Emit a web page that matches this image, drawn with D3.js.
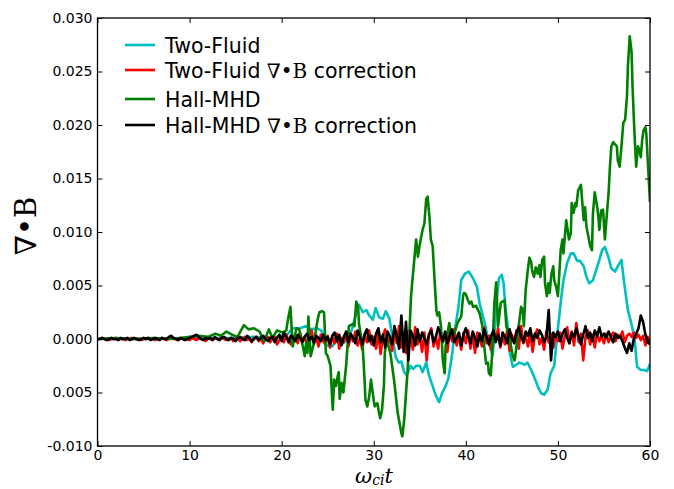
<!DOCTYPE html>
<html>
<head>
<meta charset="utf-8">
<script src="https://cdn.jsdelivr.net/npm/d3@7"></script>
<style>
  html, body { margin: 0; padding: 0; background: #fff; }
  svg { display: block; }
</style>
</head>
<body>
<svg id="chart" width="674" height="489"></svg>
<script>
// Divergence of B versus time for the four simulation runs.

// Hall-MHD, [t, divB]
const hallMHD = [
  [0,0],[2,0.0001],[4,0],[6,0.0001],[8,0],[9,0.0001],[10,0.0002],[11,0.0003],[12,0.0002],
  [12.8,0.0005],[13.4,0.0003],[14,0.0007],[14.6,0.0004],[15.2,0.0002],[15.9,0.0013],[16.4,0.0009],
  [17,0.001],[17.6,0.0007],[18.1,-0.0002],[18.6,0.0009],[19,0.0001],[19.5,0.0008],[20.1,0.0006],
  [20.5,0.0008],[20.7,0.0019],[20.95,0.003],[21.2,-0.0007],[21.6,0.001],[21.9,0.0009],[22.3,-0.0007],
  [22.5,-0.0016],[22.65,-0.0004],[22.8,-0.0013],[22.9,0.0021],[23.15,-0.0016],[23.5,-0.0004],
  [23.9,0.0018],[24.1,0.0025],[24.4,0.0026],[24.6,0.0025],[24.8,-0.0013],[25.0,-0.0016],[25.3,-0.0025],
  [25.55,-0.0066],[25.7,-0.0038],[25.9,-0.0044],[26.1,-0.0034],[26.2,-0.0031],[26.3,-0.0056],
  [26.5,-0.0041],[26.7,-0.005],[27.0,-0.0025],[27.3,0.0012],[27.7,0.0014],[27.9,0.0012],[28.1,0.0035],
  [28.3,0.003],[28.4,0.0014],[28.8,-0.0007],[29.0,-0.0038],[29.1,-0.0057],[29.3,-0.0063],[29.5,-0.0054],
  [29.7,-0.0038],[29.9,-0.0051],[30.1,-0.0063],[30.4,-0.006],[30.55,-0.0068],[30.7,-0.0074],
  [30.9,-0.0066],[31.1,-0.0044],[31.2,-0.0013],[31.4,0],[31.8,-0.0013],[32.2,-0.0038],[32.6,-0.0069],
  [33.0,-0.0088],[33.1,-0.0091],[33.3,-0.0076],[33.7,-0.0026],[34.05,0.004],[34.2,0.0055],[34.4,0.0074],
  [34.6,0.0093],[34.8,0.0077],[34.95,0.0086],[35.1,0.0093],[35.3,0.0102],[35.5,0.0108],[35.7,0.0131],
  [35.85,0.0133],[36.05,0.0114],[36.2,0.0093],[36.4,0.0087],[36.6,0.0056],[36.8,0.0027],[36.9,0.0022],
  [37.1,0.0025],[37.3,0.0012],[37.5,-0.002],[37.7,-0.0032],[37.8,-0.0007],[38.0,0.0005],[38.2,0.0015],
  [38.4,0.0005],[38.75,0.0005],[39.1,0.0015],[39.5,0.0021],[39.7,0.004],[39.8,0.0043],[40.0,0.0042],
  [40.2,0.0037],[40.4,0.0033],[40.6,0.0035],[40.8,0.003],[41.1,0.0031],[41.5,0.0024],[41.8,0.0012],
  [42.0,-0.0007],[42.2,-0.0023],[42.4,-0.0022],[42.5,-0.0032],[42.7,-0.0034],[42.9,-0.0009],
  [43.1,0.0034],[43.3,0.0053],[43.5,0.0012],[43.8,0.0034],[44.2,0.0036],[44.4,0.0012],[44.7,0.0003],
  [45.1,-0.0016],[45.3,-0.002],[45.5,-0.0007],[45.6,0.0003],[46.0,0.003],[46.2,0.0027],[46.3,0.0012],
  [46.5,0.0046],[46.7,0.0062],[46.9,0.0076],[47.1,0.0072],[47.2,0.0064],[47.4,0.0058],[47.6,0.0067],
  [47.8,0.0061],[48.0,0.0069],[48.1,0.0058],[48.3,0.0074],[48.5,0.0077],[48.6,0.0052],[48.8,0.004],
  [48.95,0.0052],[49.1,0.0043],[49.3,0.0061],[49.5,0.0068],[49.6,0.0055],[49.8,0.0049],[50.0,0.004],
  [50.15,0.0061],[50.3,0.0083],[50.5,0.0093],[50.6,0.008],[50.9,0.0111],[51.0,0.0105],[51.2,0.0093],
  [51.4,0.0099],[51.5,0.0127],[51.7,0.0118],[51.9,0.0127],[52.0,0.0124],[52.2,0.0139],[52.5,0.0144],
  [52.8,0.0111],[52.95,0.0123],[53.1,0.0105],[53.3,0.0096],[53.5,0.0087],[53.7,0.0083],[53.8,0.0117],
  [54.0,0.0137],[54.2,0.0127],[54.35,0.0118],[54.5,0.0102],[54.7,0.012],[54.9,0.0121],[55.1,0.0093],
  [55.3,0.0115],[55.5,0.0136],[55.65,0.0161],[55.8,0.018],[56.0,0.0184],[56.2,0.0182],[56.4,0.018],
  [56.5,0.0167],[56.7,0.0161],[56.9,0.018],[57.1,0.0202],[57.3,0.0205],[57.5,0.0227],[57.6,0.0255],
  [57.8,0.0283],[58.0,0.0268],[58.1,0.0237],[58.25,0.0205],[58.35,0.0186],[58.5,0.0161],[58.7,0.018],
  [58.9,0.0175],[59.0,0.017],[59.15,0.0186],[59.3,0.0195],[59.5,0.0198],[59.6,0.0192],[60,0.0128]
];

// Two-Fluid, [t, divB]
const twoFluid = [
  [0,0],[5,0],[10,0.0001],[15,0.0001],[17,0.0002],[19,0.0001],[20,0.0003],[20.7,0.0005],[21.2,0.001],
  [22,0.001],[22.6,0.0012],[23.2,0.0009],[23.8,0.001],[24.3,0.0008],[24.9,-0.0006],[25.5,-0.0007],
  [26,-0.0001],[26.7,-0.0004],[27.2,0.0002],[27.6,0.0008],[28.1,0.0024],[28.4,0.0032],[28.8,0.0025],
  [29.2,0.0027],[29.5,0.0022],[29.9,0.0018],[30.2,0.0029],[30.6,0.002],[31.0,0.0019],[31.3,0.0026],
  [31.7,0.0019],[32.0,0.0003],[32.4,-0.0017],[32.7,-0.0022],[33.0,-0.0021],[33.3,-0.0031],[33.6,-0.0034],
  [34.0,-0.0025],[34.3,-0.0028],[34.6,-0.0025],[35.0,-0.0025],[35.3,-0.0031],[35.7,-0.0022],[36.0,-0.0034],
  [36.4,-0.0044],[36.7,-0.0052],[37.1,-0.0059],[37.4,-0.0051],[37.8,-0.0044],[38.1,-0.0037],[38.5,-0.0015],
  [38.8,0.0008],[39.2,0.003],[39.5,0.0055],[39.9,0.0061],[40.3,0.0063],[40.7,0.0058],[41.2,0.0049],
  [41.5,0.0033],[41.9,0.002],[42.1,0.0013],[42.5,-0.0004],[42.9,-0.0015],[43.1,0.0001],[43.3,0.0032],
  [43.6,0.0057],[43.9,0.006],[44.1,0.0052],[44.3,0.003],[44.6,0.0008],[44.8,-0.0014],[45.1,-0.0026],
  [45.5,-0.0024],[45.8,-0.0022],[46.4,-0.0024],[46.7,-0.0022],[47.1,-0.0029],[47.4,-0.0035],[47.9,-0.0046],
  [48.2,-0.0051],[48.5,-0.0052],[48.9,-0.0047],[49.2,-0.0032],[49.6,-0.0025],[49.9,0.0002],[50.3,0.0034],
  [50.6,0.0055],[51.0,0.0071],[51.4,0.008],[51.7,0.008],[52.1,0.0073],[52.4,0.0073],[52.8,0.0068],
  [53.1,0.0058],[53.4,0.0052],[53.8,0.0055],[54.1,0.0063],[54.5,0.0074],[54.8,0.0083],[55.1,0.0086],
  [55.5,0.0076],[55.8,0.0066],[56.2,0.0063],[56.5,0.0068],[56.9,0.0074],[57.2,0.0052],[57.6,0.0027],
  [57.9,0.0017],[58.3,0.0002],[58.6,-0.0026],[59.0,-0.0029],[59.3,-0.0029],[59.7,-0.003],[60,-0.0023]
];

// Runs with divergence cleaning, sampled every dt
const dt = 0.25;
const twoFluidCorr = [
  0,0,0.0001,0,0,-0.0001,0,0,0.0001,0,0,0,-0.0001,0,0,0.0001,0,0,0,-0.0001,0,
  0,0.0001,0,0,-0.0001,0,0,0.0001,0,-0.0001,0,0.0001,0,0,-0.0001,0,0.0001,0,0,-0.0001,
  0.0001,0,-0.0001,0.0001,0,0,-0.0002,0.0001,0,-0.0001,0.0001,0,-0.0001,0.0002,0,-0.0001,0,0.0001,-0.0002,0,
  0.0001,-0.0002,0,0.0002,-0.0001,0,-0.0003,0.0001,0.0002,-0.0002,0,-0.0004,0.0001,0.0002,-0.0003,0,0.0002,-0.0005,-0.0001,0.0002,
  -0.0003,0.0004,-0.0001,-0.0005,0.0003,0.0001,-0.0004,0.0006,-0.0002,0.0002,-0.0006,0.0003,0.0008,-0.0003,0.0001,-0.0007,0.0004,-0.0002,-0.0005,0.0003,
  -0.0008,0.0002,-0.0004,0.0005,-0.0009,0.0001,-0.0003,0.0006,-0.0007,0.0003,-0.0002,0.0007,-0.0006,0.0001,-0.001,0.0004,-0.0003,0.0008,-0.0005,0.0002,
  -0.0009,0.0005,-0.0014,0.0003,0.0009,-0.0006,0.0002,-0.0011,0.0006,-0.0004,0.0012,-0.0008,0.0004,-0.0013,0.0007,0.0002,-0.001,0.0011,-0.0005,0.0003,
  -0.0012,0.0006,-0.002,0.0004,0.001,-0.0007,0.0002,-0.0009,0.0008,-0.0003,0.0005,-0.0012,0.0007,-0.0002,0.0009,-0.0006,0.0003,-0.001,0.0006,-0.0004,
  0.0008,-0.0009,0.0004,-0.0013,0.0006,0.0001,-0.0007,0.0011,-0.0004,0.0003,-0.001,0.0007,-0.0002,0.001,-0.0008,0.0003,-0.0005,0.0009,-0.0011,0.0004,
  -0.0003,0.0008,-0.0009,0.0012,-0.0004,0.0002,-0.0007,0.0006,-0.0012,0.0003,0.0009,-0.0005,0.0001,-0.001,0.0007,-0.0003,0.0005,-0.0008,0.0004,-0.0002,
  0.0006,-0.0009,0.0003,0.0011,-0.0004,0.0007,-0.0006,0.0015,-0.0003,0.0005,-0.002,0.0002,0.0008,-0.0005,0.0004,-0.0008,0.0006,-0.0002,0.0003,-0.0004,
  0.0005,-0.0003,0.0002,0.0006,-0.0002,0.0004,0.0001,0.0007,-0.0003,0.0003,0.0005,0.0002,0.0006,0.0001,0.0004,-0.0001,0.0003,-0.0006,0.0002,-0.0003
];
const hallMHDCorr = [
  0,0,0.0001,0,-0.0001,0,0.0001,0,0,-0.0001,0.0001,0,0,0.0001,-0.0001,0,0.0001,0,-0.0001,0,0.0001,
  0,0.0001,-0.0001,0,0.0001,0,-0.0001,0.0001,0,0,0.0002,0.0003,0.0001,0,-0.0001,0.0001,0,-0.0001,0,0.0001,
  0.0002,0.0003,0.0004,0.0002,0,-0.0001,0.0001,0,0.0001,-0.0001,0.0002,0,-0.0001,0.0001,0.0002,0,-0.0001,0.0001,0,-0.0002,
  0.0001,0.0002,0,-0.0001,0.0003,0.0001,-0.0002,0,0.0002,-0.0001,0.0001,0.0003,0,-0.0002,0.0001,0.0002,-0.0003,0.0001,0.0004,-0.0002,
  0.0006,0.0002,-0.0003,0.0003,0.0001,-0.0002,0.0004,0.0001,-0.0003,0.0002,0.0005,-0.0001,0.0002,-0.0004,0.0003,0.0001,-0.0002,0.0004,-0.0001,0.0002,
  -0.0005,0.0003,0.0006,-0.0002,0.0004,-0.0006,0.0002,0.0007,-0.0003,0.0005,0.0001,-0.0004,0.0008,0.0002,-0.0005,0.0004,0.0009,-0.0002,0.0003,-0.0006,
  0.0005,0.001,-0.0003,0.0004,-0.0008,0.0007,0.0002,-0.0005,0.0012,0.0003,-0.0009,0.0022,-0.0012,0.0016,-0.002,0.0008,0.0003,-0.0006,0.0009,-0.0002,
  0.0006,0.0001,-0.0005,0.0004,0.0008,-0.0003,0.0002,0.0011,0.0004,-0.0002,0.0007,-0.0004,0.0003,0.0009,-0.0003,0.0001,0.0006,-0.0006,0.0004,0.001,
  0.0003,-0.0004,0.0007,0.0001,-0.0007,0.0005,-0.0002,0.0009,0.0002,-0.0005,0.0003,0.0008,-0.0003,0.0004,-0.0006,0.0006,0.0002,-0.0004,0.0009,0.0001,
  -0.0004,0.0006,0.0011,0.0002,-0.0003,0.0007,0.0003,0.001,-0.0002,0.0005,0.0001,0.0008,0.0004,-0.0003,0.0002,0.0027,-0.002,0.0006,0.0002,0.0007,
  -0.0002,0.0005,0.0009,0.0001,-0.0004,0.0006,0.0002,0.001,0.0003,-0.0005,0.0004,0.0012,0.0001,0.0006,-0.0002,0.0008,0.0003,0.0011,0.0002,0.0005,
  0.0001,0.0007,0.0002,-0.0003,0.0005,0.0001,0.0003,-0.0002,-0.0008,-0.0013,-0.0004,-0.0011,0.0001,0.0005,0.001,0.0022,0.0016,0.0004,-0.0003,-0.0005
];

// Axis ticks
const xTicks = [0, 10, 20, 30, 40, 50, 60];
const yTicks = [-0.010, -0.005, 0.000, 0.005, 0.010, 0.015, 0.020, 0.025, 0.030];
const yTickLabels = ["-0.010", "0.005", "0.000", "0.005", "0.010", "0.015", "0.020", "0.025", "0.030"];

// Legend entries, in drawing order
const seriesNames = ["Two-Fluid", "Two-Fluid correction", "Hall-MHD", "Hall-MHD correction"];
const seriesColors = ["#00bfbf", "#ff0000", "#008000", "#000000"];

const svg = d3.select("#chart");
const plot = { left: 97.5, right: 650, top: 18, bottom: 446 };

const x = d3.scaleLinear().domain([0, 60]).range([plot.left, plot.right]);
const y = d3.scaleLinear().domain([-0.010, 0.030]).range([plot.bottom, plot.top]);

const sampled = arr => arr.map((v, i) => [i * dt, v]);
const seriesData = [twoFluid, sampled(twoFluidCorr), hallMHD, sampled(hallMHDCorr)];

svg.append("defs").append("clipPath").attr("id", "plotclip")
  .append("rect")
  .attr("x", plot.left).attr("y", plot.top)
  .attr("width", plot.right - plot.left).attr("height", plot.bottom - plot.top);

const line = d3.line().x(d => x(d[0])).y(d => y(d[1]));

const lines = svg.append("g").attr("clip-path", "url(#plotclip)");
seriesData.forEach((data, i) => {
  lines.append("path")
    .datum(data)
    .attr("d", line)
    .attr("fill", "none")
    .attr("stroke", seriesColors[i])
    .attr("stroke-width", 2.6)
    .attr("stroke-linejoin", "round")
    .attr("stroke-linecap", "butt");
});

// Axes with inward ticks on all four sides
const tickFont = (g) => g.selectAll("text")
  .attr("font-family", "DejaVu Sans, sans-serif")
  .attr("font-size", 14)
  .attr("fill", "#000");

const axLeft = svg.append("g").attr("transform", `translate(${plot.left},0)`)
  .call(d3.axisLeft(y).tickValues(yTicks).tickFormat((d, i) => yTickLabels[i])
    .tickSizeInner(-5).tickSizeOuter(0).tickPadding(5));
axLeft.call(tickFont);

const axRight = svg.append("g").attr("transform", `translate(${plot.right},0)`)
  .call(d3.axisRight(y).tickValues(yTicks).tickFormat("")
    .tickSizeInner(-5).tickSizeOuter(0));

const axBottom = svg.append("g").attr("transform", `translate(0,${plot.bottom})`)
  .call(d3.axisBottom(x).tickValues(xTicks).tickFormat(d3.format("d"))
    .tickSizeInner(-5).tickSizeOuter(0).tickPadding(4));
axBottom.call(tickFont);

const axTop = svg.append("g").attr("transform", `translate(0,${plot.top})`)
  .call(d3.axisTop(x).tickValues(xTicks).tickFormat("")
    .tickSizeInner(-5).tickSizeOuter(0));

[axLeft, axRight, axBottom, axTop].forEach(g => {
  g.select(".domain").remove();
  g.selectAll(".tick line").attr("stroke", "#000").attr("stroke-width", 1);
});

svg.append("rect")
  .attr("x", plot.left).attr("y", plot.top)
  .attr("width", plot.right - plot.left).attr("height", plot.bottom - plot.top)
  .attr("fill", "none").attr("stroke", "#000").attr("stroke-width", 1.3);

// Axis titles
svg.append("text")
  .attr("transform", "translate(36,226) rotate(-90)")
  .attr("text-anchor", "middle")
  .attr("font-family", "DejaVu Serif, serif")
  .attr("font-size", 29)
  .attr("fill", "#000")
  .text("∇•B");

const xt = svg.append("text")
  .attr("x", 355).attr("y", 483)
  .attr("font-family", "DejaVu Serif, serif")
  .attr("font-style", "italic")
  .attr("font-size", 21)
  .attr("fill", "#000");
xt.append("tspan").text("ω");
xt.append("tspan").attr("font-size", 14).attr("dy", 2).text("ci");
xt.append("tspan").attr("dy", -2).text("t");

// Legend
const legendRows = [45, 70, 99, 125];
const legend = svg.append("g");
seriesNames.forEach((name, i) => {
  const ly = legendRows[i];
  legend.append("line")
    .attr("x1", 125).attr("x2", 155).attr("y1", ly).attr("y2", ly)
    .attr("stroke", seriesColors[i]).attr("stroke-width", 2.6);
  const t = legend.append("text")
    .attr("x", 165).attr("y", ly + 7.5)
    .attr("font-family", "DejaVu Sans, sans-serif")
    .attr("font-size", 20.5)
    .attr("fill", "#000");
  const parts = name.split(" correction");
  t.append("tspan").text(parts[0]);
  if (parts.length > 1) {
    t.append("tspan").attr("font-family", "DejaVu Serif, serif").attr("font-size", 20).text(" ∇•B");
    t.append("tspan").text(" correction");
  }
});
</script>
</body>
</html>
